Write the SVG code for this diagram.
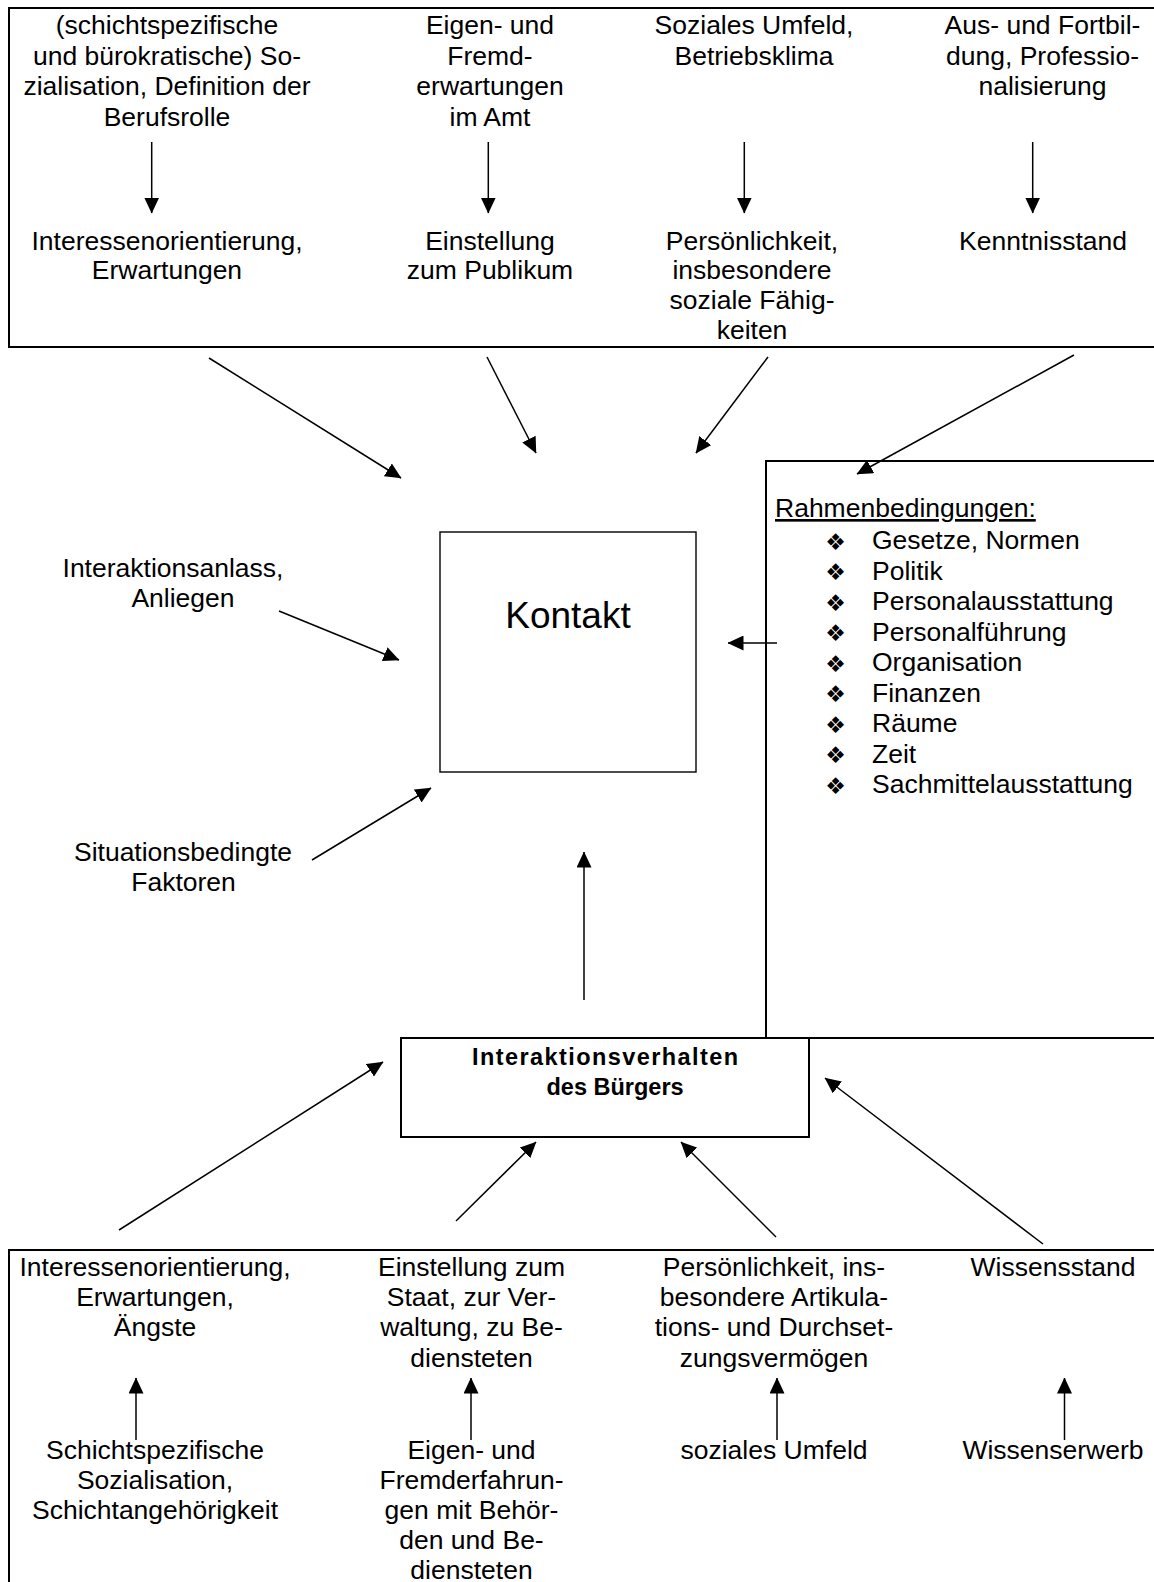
<svg xmlns="http://www.w3.org/2000/svg" width="1154" height="1582" viewBox="0 0 1154 1582">
<style>
text{font-family:"Liberation Sans",Arial,sans-serif;font-size:26.5px;fill:#000}
.c{text-anchor:middle}
.b{font-weight:bold;font-size:23.5px}
.k{font-size:37px}
.bul{font-family:"DejaVu Sans",sans-serif;font-size:23px;text-anchor:middle}
.box{fill:none;stroke:#000;stroke-width:2}
.thin{fill:none;stroke:#000;stroke-width:1.4}
.ar{stroke:#000;stroke-width:1.5;fill:none;marker-end:url(#ah)}
</style>
<defs>
<marker id="ah" viewBox="0 0 16 15" refX="15.5" refY="7.5" markerWidth="16" markerHeight="15" markerUnits="userSpaceOnUse" orient="auto">
<path d="M0,0 L16,7.5 L0,15 Z" fill="#000"/>
</marker>
</defs>
<rect width="1154" height="1582" fill="#fff"/>

<g id="amt-faktoren">
<rect class="box" x="9" y="8" width="1200" height="339"/>
<text class="c" x="167" y="34">(schichtspezifische</text>
<text class="c" x="167" y="64.5">und bürokratische) So-</text>
<text class="c" x="167" y="95">zialisation, Definition der</text>
<text class="c" x="167" y="125.5">Berufsrolle</text>
<text class="c" x="167" y="249.5">Interessenorientierung,</text>
<text class="c" x="167" y="279">Erwartungen</text>
<text class="c" x="490" y="34">Eigen- und</text>
<text class="c" x="490" y="64.5">Fremd-</text>
<text class="c" x="490" y="95">erwartungen</text>
<text class="c" x="490" y="125.5">im Amt</text>
<text class="c" x="490" y="249.5">Einstellung</text>
<text class="c" x="490" y="279">zum Publikum</text>
<text class="c" x="754" y="34">Soziales Umfeld,</text>
<text class="c" x="754" y="64.5">Betriebsklima</text>
<text class="c" x="752" y="249.5">Persönlichkeit,</text>
<text class="c" x="752" y="279">insbesondere</text>
<text class="c" x="752" y="309">soziale Fähig-</text>
<text class="c" x="752" y="338.5">keiten</text>
<text class="c" x="1042.5" y="34">Aus- und Fortbil-</text>
<text class="c" x="1042.5" y="64.5">dung, Professio-</text>
<text class="c" x="1042.5" y="95">nalisierung</text>
<text class="c" x="1043" y="249.5">Kenntnisstand</text>
</g>

<g id="kontakt">
<rect class="thin" x="440" y="532" width="256" height="240"/>
<text class="c k" x="568" y="628">Kontakt</text>
</g>

<g id="anlass">
<text class="c" x="173" y="577">Interaktionsanlass,</text>
<text class="c" x="183" y="607">Anliegen</text>
</g>

<g id="situation">
<text class="c" x="183" y="861">Situationsbedingte</text>
<text class="c" x="183.5" y="891">Faktoren</text>
</g>

<g id="rahmenbedingungen">
<rect class="box" x="766" y="461" width="500" height="577"/>
<text x="775" y="517" text-decoration="underline">Rahmenbedingungen:</text>
<text class="bul" x="835.5" y="549.5">❖</text><text x="872" y="549">Gesetze, Normen</text>
<text class="bul" x="835.5" y="580">❖</text><text x="872" y="579.5">Politik</text>
<text class="bul" x="835.5" y="610.5">❖</text><text x="872" y="610">Personalausstattung</text>
<text class="bul" x="835.5" y="641">❖</text><text x="872" y="640.5">Personalführung</text>
<text class="bul" x="835.5" y="671.5">❖</text><text x="872" y="671">Organisation</text>
<text class="bul" x="835.5" y="702">❖</text><text x="872" y="701.5">Finanzen</text>
<text class="bul" x="835.5" y="732.5">❖</text><text x="872" y="732">Räume</text>
<text class="bul" x="835.5" y="763">❖</text><text x="872" y="762.5">Zeit</text>
<text class="bul" x="835.5" y="793.5">❖</text><text x="872" y="793">Sachmittelausstattung</text>
</g>

<g id="interaktionsverhalten">
<rect class="box" x="401" y="1038" width="408" height="99" fill="#fff"/>
<text class="b" x="472" y="1064.5" textLength="266" lengthAdjust="spacing">Interaktionsverhalten</text>
<text class="b" x="546.5" y="1094.5">des Bürgers</text>
</g>

<g id="buerger-faktoren">
<rect class="box" x="9" y="1250" width="1200" height="400"/>
<text class="c" x="155" y="1276">Interessenorientierung,</text>
<text class="c" x="155" y="1306">Erwartungen,</text>
<text class="c" x="155" y="1336">Ängste</text>
<text class="c" x="155" y="1459">Schichtspezifische</text>
<text class="c" x="155" y="1489">Sozialisation,</text>
<text class="c" x="155" y="1519">Schichtangehörigkeit</text>
<text class="c" x="471.5" y="1276">Einstellung zum</text>
<text class="c" x="471.5" y="1306">Staat, zur Ver-</text>
<text class="c" x="471.5" y="1336">waltung, zu Be-</text>
<text class="c" x="471.5" y="1366.5">diensteten</text>
<text class="c" x="471.5" y="1459">Eigen- und</text>
<text class="c" x="471.5" y="1489">Fremderfahrun-</text>
<text class="c" x="471.5" y="1519">gen mit Behör-</text>
<text class="c" x="471.5" y="1549">den und Be-</text>
<text class="c" x="471.5" y="1579">diensteten</text>
<text class="c" x="774" y="1276">Persönlichkeit, ins-</text>
<text class="c" x="774" y="1306">besondere Artikula-</text>
<text class="c" x="774" y="1336">tions- und Durchset-</text>
<text class="c" x="774" y="1366.5">zungsvermögen</text>
<text class="c" x="774" y="1459">soziales Umfeld</text>
<text class="c" x="1053" y="1276">Wissensstand</text>
<text class="c" x="1053" y="1459">Wissenserwerb</text>
</g>

<g id="connectors">
<line class="ar" x1="151.7" y1="142" x2="151.7" y2="213"/>
<line class="ar" x1="488.3" y1="142" x2="488.3" y2="213"/>
<line class="ar" x1="744.3" y1="142" x2="744.3" y2="213"/>
<line class="ar" x1="1032.7" y1="142" x2="1032.7" y2="213"/>
<line class="ar" x1="209" y1="358" x2="401" y2="478"/>
<line class="ar" x1="487" y1="357" x2="536" y2="453"/>
<line class="ar" x1="768" y1="357" x2="696" y2="453"/>
<line class="ar" x1="1074" y1="355" x2="857" y2="474"/>
<line class="ar" x1="777" y1="643" x2="728" y2="643"/>
<line class="ar" x1="279" y1="611" x2="399" y2="660"/>
<line class="ar" x1="312" y1="860" x2="431" y2="788"/>
<line class="ar" x1="584" y1="1000" x2="584" y2="852"/>
<line class="ar" x1="119" y1="1230" x2="383" y2="1062"/>
<line class="ar" x1="456" y1="1221" x2="536" y2="1142"/>
<line class="ar" x1="776" y1="1237" x2="681" y2="1142"/>
<line class="ar" x1="1043" y1="1244" x2="825" y2="1078"/>
<line class="ar" x1="136" y1="1440" x2="136" y2="1378"/>
<line class="ar" x1="471" y1="1440" x2="471" y2="1378"/>
<line class="ar" x1="777" y1="1440" x2="777" y2="1378"/>
<line class="ar" x1="1064.5" y1="1440" x2="1064.5" y2="1378"/>
</g>
</svg>
